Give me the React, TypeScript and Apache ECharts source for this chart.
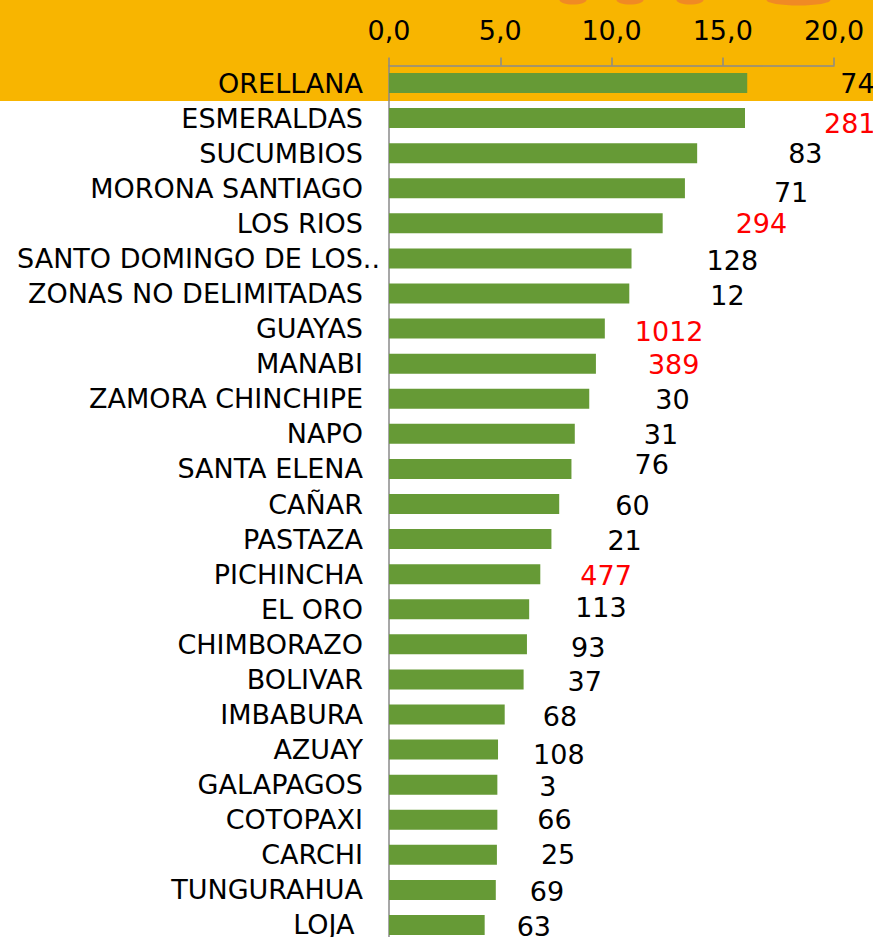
import React, { useEffect, useRef } from "react";
import * as echarts from "echarts";

const provinces = [
  "ORELLANA", "ESMERALDAS", "SUCUMBIOS", "MORONA SANTIAGO", "LOS RIOS",
  "SANTO DOMINGO DE LOS..", "ZONAS NO DELIMITADAS", "GUAYAS", "MANABI",
  "ZAMORA CHINCHIPE", "NAPO", "SANTA ELENA", "CAÑAR", "PASTAZA", "PICHINCHA",
  "EL ORO", "CHIMBORAZO", "BOLIVAR", "IMBABURA", "AZUAY", "GALAPAGOS",
  "COTOPAXI", "CARCHI", "TUNGURAHUA", "LOJA ",
];

const rates = [
  16.1, 16.0, 13.85, 13.3, 12.3, 10.9, 10.8, 9.7, 9.3, 9.0, 8.35, 8.2, 7.65,
  7.3, 6.8, 6.3, 6.2, 6.05, 5.2, 4.9, 4.87, 4.87, 4.85, 4.8, 4.3,
];

const counts = [
  74, 281, 83, 71, 294, 128, 12, 1012, 389, 30, 31, 76, 60, 21, 477, 113, 93,
  37, 68, 108, 3, 66, 25, 69, 63,
];

const xTicks = [0, 5, 10, 15, 20];

// layout only: manual nudges of the count labels (px), as placed in the original
const labelNudge: [number, number][] = [
  [93, 0], [79, 5], [91, 0], [89, 4], [73, 0], [75, 2], [81, 2], [30, 3],
  [52, 1], [66, 1], [69, 1], [63, -4], [56, 1], [56, 1], [40, 1], [46, -2],
  [44, 3], [44, 2], [38, 2], [35, 5], [42, 2], [40, 0], [44, 0], [34, 2],
  [32, 2],
];

const FONT = "DejaVu Sans";
const FS = 27;

export default function App() {
  const ref = useRef<HTMLDivElement>(null);

  useEffect(() => {
    if (!ref.current) return;
    const chart = echarts.init(ref.current, undefined, { renderer: "svg" });

    const option = {
      animation: false,
      backgroundColor: "#ffffff",
      textStyle: { fontFamily: FONT },
      graphic: [
        {
          type: "rect",
          z: -10,
          silent: true,
          shape: { x: 0, y: 0, width: 873, height: 101 },
          style: { fill: "#F8B500" },
        },
        { type: "ellipse", z: -9, silent: true, shape: { cx: 573, cy: 0, rx: 13.5, ry: 4.5 }, style: { fill: "#F08A24" } },
        { type: "ellipse", z: -9, silent: true, shape: { cx: 630, cy: 0, rx: 13.5, ry: 4.5 }, style: { fill: "#F08A24" } },
        { type: "ellipse", z: -9, silent: true, shape: { cx: 690, cy: 0, rx: 13.5, ry: 4.5 }, style: { fill: "#F08A24" } },
        { type: "ellipse", z: -9, silent: true, shape: { cx: 798.5, cy: 0, rx: 32, ry: 5.5 }, style: { fill: "#F08A24" } },
      ],
      grid: {
        left: 389,
        right: 873 - 834,
        top: 65.5,
        bottom: 0.5,
        containLabel: false,
      },
      xAxis: {
        type: "value",
        position: "top",
        min: xTicks[0],
        max: xTicks[xTicks.length - 1],
        interval: xTicks[1] - xTicks[0],
        axisLine: { show: true, lineStyle: { color: "#8a8a8a", width: 1.5 } },
        axisTick: { show: true, length: 8, inside: false, lineStyle: { color: "#8a8a8a", width: 1.5 } },
        splitLine: { show: false },
        axisLabel: {
          margin: 22,
          color: "#000000",
          fontSize: FS,
          fontFamily: FONT,
          formatter: (v: number) => v.toFixed(1).replace(".", ","),
        },
      },
      yAxis: {
        type: "category",
        inverse: true,
        data: provinces.map((p) =>
          p.endsWith("..")
            ? { value: p, textStyle: { padding: [0, -17, 0, 0] } }
            : p
        ),
        axisLine: { show: true, lineStyle: { color: "#8a8a8a", width: 1.5 } },
        axisTick: { show: false },
        splitLine: { show: false },
        axisLabel: {
          margin: 26,
          color: "#000000",
          fontSize: FS,
          fontFamily: FONT,
          interval: 0,
        },
      },
      series: [
        {
          type: "bar",
          barWidth: 20,
          itemStyle: { color: "#669A36" },
          data: rates.map((v, i) => ({
            value: v,
            label: {
              offset: labelNudge[i],
              color: counts[i] > 200 ? "#FF0000" : "#000000",
            },
          })),
          label: {
            show: true,
            position: "right",
            distance: 0,
            fontSize: FS,
            fontFamily: FONT,
            formatter: (p: any) => String(counts[p.dataIndex]),
          },
        },
      ],
    };

    chart.setOption(option as any);
    return () => chart.dispose();
  }, []);

  return (
    <div
      ref={ref}
      style={{ position: "fixed", left: 0, top: 0, width: 873, height: 943 }}
    />
  );
}
